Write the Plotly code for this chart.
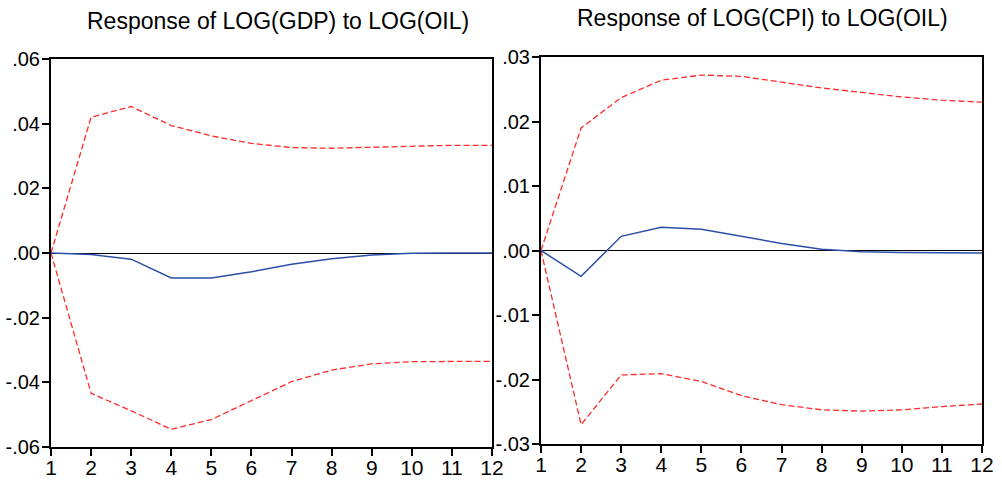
import plotly.graph_objects as go

# Impulse-response horizons
periods = list(range(1, 13))

# Response of LOG(GDP) to LOG(OIL): point estimate and +/- 2 S.E. bands
gdp_resp = [0.0, -0.0005, -0.0019, -0.0077, -0.0077, -0.0058, -0.0035, -0.0018, -0.0006, -0.0001, 0.0, 0.0]
gdp_upper = [0.0, 0.0420, 0.0453, 0.0394, 0.0362, 0.0339, 0.0326, 0.0324, 0.0327, 0.0330, 0.0333, 0.0333]
gdp_lower = [0.0, -0.0434, -0.0488, -0.0545, -0.0515, -0.0456, -0.0398, -0.0362, -0.0343, -0.0336, -0.0335, -0.0335]

# Response of LOG(CPI) to LOG(OIL)
cpi_resp = [0.0, -0.0040, 0.0022, 0.0036, 0.0033, 0.0022, 0.0011, 0.0002, -0.0002, -0.0003, -0.0004, -0.0004]
cpi_upper = [0.0, 0.0190, 0.0237, 0.0264, 0.0272, 0.0270, 0.0261, 0.0252, 0.0245, 0.0238, 0.0233, 0.0230]
cpi_lower = [0.0, -0.0270, -0.0193, -0.0191, -0.0203, -0.0225, -0.0239, -0.0247, -0.0249, -0.0247, -0.0242, -0.0238]

gdp_tickvals = [0.06, 0.04, 0.02, 0.0, -0.02, -0.04, -0.06]
gdp_ticktext = [".06", ".04", ".02", ".00", "-.02", "-.04", "-.06"]
cpi_tickvals = [0.03, 0.02, 0.01, 0.0, -0.01, -0.02, -0.03]
cpi_ticktext = [".03", ".02", ".01", ".00", "-.01", "-.02", "-.03"]

titles = ["Response of LOG(GDP) to LOG(OIL)", "Response of LOG(CPI) to LOG(OIL)"]

W, H = 1002, 482
FONT = "Liberation Sans, Arial, sans-serif"
BLUE = "#2b4ea6"
RED = "#ff2a2a"

fig = go.Figure()

panels = [
    ("x", "y", gdp_resp, gdp_upper, gdp_lower),
    ("x2", "y2", cpi_resp, cpi_upper, cpi_lower),
]
for xa, ya, resp, up, lo in panels:
    for band in (up, lo):
        fig.add_trace(go.Scatter(x=periods, y=band, xaxis=xa, yaxis=ya, mode="lines",
                                 line=dict(color=RED, width=1.3, dash="6px,3px"),
                                 showlegend=False, hoverinfo="skip"))
    fig.add_trace(go.Scatter(x=periods, y=resp, xaxis=xa, yaxis=ya, mode="lines",
                             line=dict(color=BLUE, width=1.5),
                             showlegend=False))

def px_x(a, b):
    return [a / W, b / W]

def px_y(top, bottom):
    return [(H - bottom) / H, (H - top) / H]

frame = dict(showline=True, linecolor="black", linewidth=2, mirror=True,
             ticks="outside", ticklen=7, tickwidth=1.5, tickcolor="black",
             showgrid=False, automargin=False)
xfont = dict(family=FONT, size=21, color="black")
yfont = dict(family=FONT, size=20, color="black")

fig.update_layout(
    width=W, height=H,
    margin=dict(l=0, r=0, t=0, b=0, autoexpand=False),
    paper_bgcolor="white", plot_bgcolor="white",
    xaxis=dict(domain=px_x(51, 492), range=[1, 12], tickvals=periods, zeroline=False,
               anchor="y", tickfont=xfont, ticklabelstandoff=-6, **frame),
    yaxis=dict(domain=px_y(59, 447), range=[-0.06, 0.06], tickvals=gdp_tickvals,
               ticktext=gdp_ticktext, zeroline=True, zerolinecolor="black", zerolinewidth=1,
               anchor="x", tickfont=yfont, ticklabelstandoff=-2, **frame),
    xaxis2=dict(domain=px_x(541, 982), range=[1, 12], tickvals=periods, zeroline=False,
                anchor="y2", tickfont=xfont, ticklabelstandoff=-6, **frame),
    yaxis2=dict(domain=px_y(57, 444), range=[-0.03, 0.03], tickvals=cpi_tickvals,
                ticktext=cpi_ticktext, zeroline=True, zerolinecolor="black", zerolinewidth=1,
                anchor="x2", tickfont=yfont, ticklabelstandoff=-2, **frame),
    annotations=[
        dict(text=titles[0], x=278 / W, y=1 - 21 / H, xref="paper", yref="paper",
             showarrow=False, xanchor="center", yanchor="middle",
             font=dict(family=FONT, size=23, color="black")),
        dict(text=titles[1], x=762 / W, y=1 - 18 / H, xref="paper", yref="paper",
             showarrow=False, xanchor="center", yanchor="middle",
             font=dict(family=FONT, size=23, color="black")),
    ],
)

fig.write_html("out.html")
